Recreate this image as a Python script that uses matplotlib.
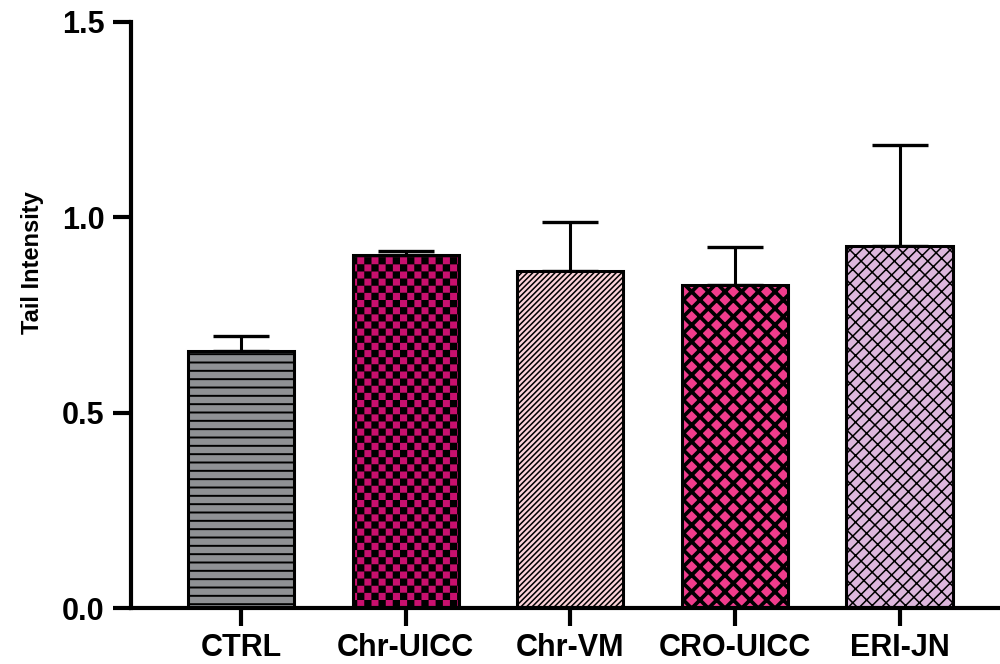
"""
Tail Intensity bar chart (mean + upper SD) with patterned bars.
"""
import warnings

import matplotlib

matplotlib.use("Agg")
import matplotlib.hatch as mhatch
import matplotlib.pyplot as plt
import numpy as np
from matplotlib.path import Path

warnings.filterwarnings("ignore")

groups = ["CTRL", "Chr-UICC", "Chr-VM", "CRO-UICC", "ERI-JN"]
means = [0.658, 0.903, 0.862, 0.827, 0.927]
sd_upper = [0.038, 0.011, 0.126, 0.097, 0.258]
face_colors = ["#8f9194", "#c8106e", "#fbd3d8", "#f03c8c", "#ddb7dd"]
hatches = ["--", "c", "//////", "xx", "///\\\\"]
hatch_widths = [1.4, 0.1, 1.1, 2.7, 1.1]


class CheckerHatch(mhatch.HatchPatternBase):
    """Filled checkerboard squares, triggered by the 'c' hatch character."""

    def __init__(self, hatch, density):
        self.n = 14 if "c" in hatch else 0
        self.cells = [(i, j) for i in range(self.n) for j in range(self.n) if (i + j) % 2 == 0]
        self.num_vertices = len(self.cells) * 5

    def set_vertices_and_codes(self, vertices, codes):
        s = 1.0 / self.n
        for k, (i, j) in enumerate(self.cells):
            x0, y0 = i * s, j * s
            vertices[5 * k:5 * k + 5] = [(x0, y0), (x0 + s, y0), (x0 + s, y0 + s), (x0, y0 + s), (x0, y0)]
            codes[5 * k:5 * k + 5] = [Path.MOVETO, Path.LINETO, Path.LINETO, Path.LINETO, Path.CLOSEPOLY]


mhatch._hatch_types.append(CheckerHatch)

plt.rcParams["font.family"] = ["Liberation Sans", "DejaVu Sans"]
plt.rcParams["font.weight"] = "bold"
plt.rcParams["hatch.linewidth"] = 1.4

fig = plt.figure(figsize=(10, 6.64), dpi=100)
ax = fig.add_axes([0.131, 0.0843, 0.869, 0.8826])

x = np.arange(len(groups))
bars = ax.bar(x, means, width=0.645, color=face_colors, edgecolor="black", linewidth=2.2, zorder=2)
for patch, h, hw in zip(bars, hatches, hatch_widths):
    patch.set_hatch(h)
    if hasattr(patch, "set_hatch_linewidth"):
        patch.set_hatch_linewidth(hw)

ax.errorbar(
    x, means, yerr=[np.zeros(len(means)), sd_upper], fmt="none",
    ecolor="black", elinewidth=2.2, capsize=20, capthick=2.4, zorder=1,
)

ax.set_xlim(-0.668, 4.61)
ax.set_ylim(0, 1.5)
ax.set_yticks([0, 0.5, 1.0, 1.5])
ax.set_yticklabels(["0.0", "0.5", "1.0", "1.5"])
ax.set_xticks(x)
ax.set_xticklabels(groups)
ax.tick_params(axis="both", labelsize=22, width=3, length=13)
ax.tick_params(axis="y", pad=6)
ax.tick_params(axis="x", pad=5)

for side in ["top", "right"]:
    ax.spines[side].set_visible(False)
for side in ["left", "bottom"]:
    ax.spines[side].set_linewidth(3)

ax.set_ylabel("Tail Intensity", fontsize=17, fontweight="bold")
ax.yaxis.set_label_coords(-0.10, 0.59)

fig.savefig("out.png", dpi=100)
